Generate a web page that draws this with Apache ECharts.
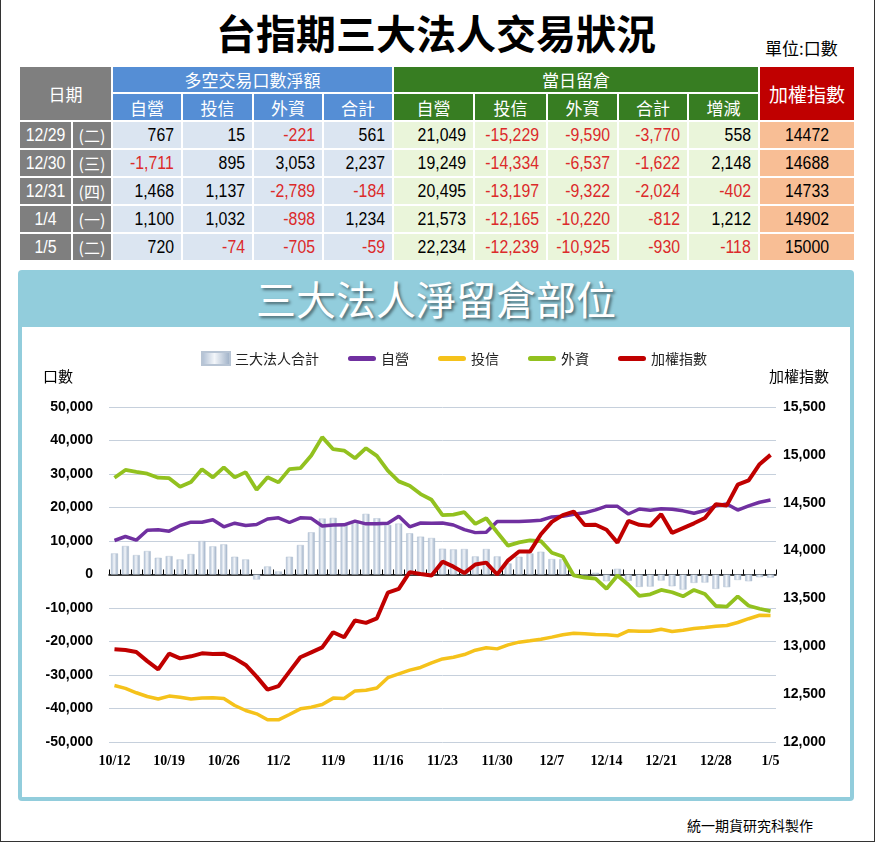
<!DOCTYPE html>
<html>
<head>
<meta charset="utf-8">
<script src="https://cdn.jsdelivr.net/npm/echarts@6/dist/echarts.min.js"></script>
<style>
  html, body { margin: 0; padding: 0; background: #fff; }
  #page { position: relative; width: 873px; height: 841px; border-left: 1px solid #333; border-right: 1px solid #333; border-bottom: 1px solid #333; background: #fff; overflow: hidden; font-family: "Noto Sans CJK TC", "Noto Sans", sans-serif; }
  #title { position: absolute; left: 0; top: 6px; width: 870px; text-align: center; font-size: 40px; font-weight: 700; line-height: 52px; color: #000; }
  #unit { position: absolute; left: 764px; top: 36px; font-size: 17px; line-height: 24px; color: #000; }
  #tbl { position: absolute; left: 17px; top: 65px; width: 836px; border-collapse: collapse; table-layout: fixed; }
  #tbl td { border: 2px solid #fff; padding: 0; height: 24px; overflow: hidden; white-space: nowrap; }
  #tbl td.h { color: #fff; text-align: center; font-size: 17px; }
  #tbl td.num { text-align: right; padding-right: 7px; font-family: "Liberation Sans", sans-serif; font-size: 18px; color: #000; }
  #tbl td.neg { color: #dc2a2a; }
  #tbl td.dt { background: #7f7f7f; color: #fff; text-align: center; font-family: "Liberation Sans", sans-serif; font-size: 18px; }
  #tbl td.wk { background: #7f7f7f; color: #fff; text-align: center; font-size: 16px; }
  #tbl td.idx { background: #f8be95; text-align: center; font-family: "Liberation Sans", sans-serif; font-size: 18px; color: #000; }
  .nar { display: inline-block; transform: scaleX(0.88); transform-origin: right center; }
  .narc { display: inline-block; transform: scaleX(0.88); transform-origin: center center; }
  .gray { background: #7f7f7f; }
  .blue { background: #558ed5; }
  .green { background: #377d22; }
  .red { background: #c00000; }
  .lb { background: #dbe5f1; }
  .lg { background: #eaf5da; }
  #panel { position: absolute; left: 17px; top: 270px; width: 836px; height: 531px; background: #92cddc; border-radius: 4px; }
  #ptitle { position: absolute; left: 0; top: 0; width: 836px; height: 57px; text-align: center; font-size: 40px; line-height: 57px; color: #fff; font-weight: 400; text-shadow: 2px 2px 3px rgba(0,0,0,0.5); }
  #inner { position: absolute; left: 4px; top: 57px; width: 828px; height: 470px; background: #fff; }
  #chart { position: absolute; left: 0; top: 0; width: 828px; height: 470px; }
  #footer { position: absolute; left: 686px; top: 814px; font-size: 14px; line-height: 22px; color: #000; }
</style>
</head>
<body>
<div id="page">
  <div id="title">台指期三大法人交易狀況</div>
  <div id="unit">單位:口數</div>
  <table id="tbl">
    <colgroup>
      <col style="width:53px"><col style="width:40px">
      <col style="width:70px"><col style="width:71px"><col style="width:70px"><col style="width:70px">
      <col style="width:81px"><col style="width:73px"><col style="width:71px"><col style="width:70px"><col style="width:71px">
      <col style="width:96px">
    </colgroup>
    <tbody id="tbody"></tbody>
  </table>
  <div id="panel">
    <div id="ptitle">三大法人淨留倉部位</div>
    <div id="inner"><div id="chart"></div></div>
  </div>
  <div id="footer">統一期貨研究科製作</div>
</div>
<script>
// ---------- table data ----------
const tblDates = ['12/29', '12/30', '12/31', '1/4', '1/5'];
const tblWeek = ['(二)', '(三)', '(四)', '(一)', '(二)'];
const netProp = [767, -1711, 1468, 1100, 720];
const netTrust = [15, 895, 1137, 1032, -74];
const netForeign = [-221, 3053, -2789, -898, -705];
const netTotal = [561, 2237, -184, 1234, -59];
const oiProp = [21049, 19249, 20495, 21573, 22234];
const oiTrust = [-15229, -14334, -13197, -12165, -12239];
const oiForeign = [-9590, -6537, -9322, -10220, -10925];
const oiTotal = [-3770, -1622, -2024, -812, -930];
const oiChange = [558, 2148, -402, 1212, -118];
const tblIndex = [14472, 14688, 14733, 14902, 15000];

// ---------- chart data ----------
const dates = ['10/12','10/13','10/14','10/15','10/16','10/19','10/20','10/21','10/22','10/23',
  '10/26','10/27','10/28','10/29','10/30','11/2','11/3','11/4','11/5','11/6',
  '11/9','11/10','11/11','11/12','11/13','11/16','11/17','11/18','11/19','11/20',
  '11/23','11/24','11/25','11/26','11/27','11/30','12/1','12/2','12/3','12/4',
  '12/7','12/8','12/9','12/10','12/11','12/14','12/15','12/16','12/17','12/18',
  '12/21','12/22','12/23','12/24','12/25','12/28','12/29','12/30','12/31','1/4','1/5'];
const totalNet = [6300,8500,5800,7000,5000,5500,4500,6100,10000,8400,
  9000,5300,4500,-1500,2400,900,5300,8800,12600,16700,
  16900,14800,15700,18100,16800,14800,15200,12300,11300,10900,
  7700,7500,7600,5400,7600,5400,3300,5300,6300,6800,
  4600,4600,200,-100,500,-2000,1700,-1900,-3700,-3600,
  -1800,-3500,-4500,-2500,-2400,-4300,-3770,-1622,-2024,-812,-930];
const propOI = [10150,11340,10250,13230,13330,12940,14630,15620,15620,16320,
  14230,15320,14630,14930,16570,16920,15520,16920,16770,14480,
  14780,14830,15920,15120,15120,15320,17400,14230,15370,15320,
  15400,14780,13380,12500,12600,15800,15850,15800,16000,16200,
  17200,17400,18000,18400,19300,20400,20350,18050,19550,19200,
  19600,19500,19000,18300,19100,20500,21049,19249,20495,21573,22234];
const trustOI = [-33130,-34000,-35300,-36420,-37150,-36300,-36620,-37150,-36850,-36820,
  -37000,-39100,-40600,-41590,-43380,-43380,-41790,-40100,-39600,-38800,
  -36900,-37000,-34750,-34550,-33900,-30800,-29650,-28550,-27750,-26400,
  -25200,-24700,-23900,-22600,-21890,-22200,-21000,-20200,-19800,-19300,
  -18700,-18010,-17510,-17710,-17910,-18010,-18310,-16820,-16920,-16920,
  -16350,-17000,-16650,-16100,-15800,-15420,-15229,-14334,-13197,-12165,-12239];
const foreignOI = [28900,31200,30600,30100,28900,28750,26200,27600,31400,29000,
  32000,29000,30550,25300,29000,27500,31450,31740,35520,41000,
  37400,37000,34700,37700,35400,31000,27800,26500,24000,22300,
  17700,17900,18600,15100,16800,12600,8600,9600,10150,9950,
  6500,5370,-300,-900,-1200,-4250,-300,-3050,-6400,-5900,
  -4600,-5300,-6500,-4600,-5800,-9400,-9590,-6537,-9322,-10220,-10925];
const taiex = [12970,12961,12940,12845,12759,12923,12874,12895,12926,12920,
  12923,12874,12805,12683,12547,12584,12735,12885,12937,12989,
  13147,13094,13270,13245,13292,13560,13600,13775,13755,13740,
  13884,13832,13765,13855,13874,13750,13898,13990,13989,14170,
  14300,14370,14407,14267,14270,14218,14083,14311,14269,14258,
  14380,14185,14235,14285,14340,14483,14472,14688,14733,14902,15000];
const seriesNames = ['三大法人合計', '自營', '投信', '外資', '加權指數'];
const leftTicks = { min: -50000, max: 50000, step: 10000 };
const rightTicks = { min: 12000, max: 15500, step: 500 };

// ---------- build table ----------
function fmt(v) { return v.toLocaleString('en-US'); }
const tb = document.getElementById('tbody');
let html = '';
html += '<tr style="height:27px"><td class="h gray" colspan="2" rowspan="2" style="font-size:17px">日期</td>' +
  '<td class="h blue" colspan="4">多空交易口數淨額</td>' +
  '<td class="h green" colspan="5">當日留倉</td>' +
  '<td class="h red" rowspan="2" style="font-size:19px">加權指數</td></tr>';
html += '<tr style="height:28px">' +
  ['自營','投信','外資','合計'].map(t => '<td class="h blue">' + t + '</td>').join('') +
  ['自營','投信','外資','合計','增減'].map(t => '<td class="h green">' + t + '</td>').join('') + '</tr>';
for (let i = 0; i < tblDates.length; i++) {
  const blueVals = [netProp[i], netTrust[i], netForeign[i], netTotal[i]];
  const greenVals = [oiProp[i], oiTrust[i], oiForeign[i], oiTotal[i], oiChange[i]];
  html += '<tr style="height:28px"><td class="dt"><span class="narc">' + tblDates[i] + '</span></td><td class="wk">' + tblWeek[i] + '</td>' +
    blueVals.map(v => '<td class="num lb' + (v < 0 ? ' neg' : '') + '"><span class="nar">' + fmt(v) + '</span></td>').join('') +
    greenVals.map(v => '<td class="num lg' + (v < 0 ? ' neg' : '') + '"><span class="nar">' + fmt(v) + '</span></td>').join('') +
    '<td class="idx"><span class="narc">' + tblIndex[i] + '</span></td></tr>';
}
tb.innerHTML = html;

// ---------- chart ----------
const chart = echarts.init(document.getElementById('chart'), null, { renderer: 'canvas' });
const numFmt = v => Number(v).toLocaleString('en-US');
const lineIcon = 'path://M2.5,0 L25.5,0 A2.5,2.5 0 0 1 25.5,5 L2.5,5 A2.5,2.5 0 0 1 2.5,0 Z';
const lineCommon = { type: 'line', symbol: 'none', showSymbol: false, smooth: false, z: 3 };
const option = {
  animation: false,
  backgroundColor: '#fff',
  textStyle: { fontFamily: 'Noto Sans CJK TC' },
  grid: { left: 87, right: 74, top: 80, bottom: 55, containLabel: false },
  legend: {
    left: 174, top: 19, itemWidth: 28, itemHeight: 13, itemGap: 29,
    textStyle: { fontSize: 14, color: '#222', fontFamily: 'Noto Sans CJK TC' },
    data: [
      { name: seriesNames[0], icon: 'rect' },
      { name: seriesNames[1], icon: lineIcon },
      { name: seriesNames[2], icon: lineIcon },
      { name: seriesNames[3], icon: lineIcon },
      { name: seriesNames[4], icon: lineIcon }
    ]
  },
  graphic: [
    { type: 'text', left: 21, top: 42, style: { text: '口數', fontSize: 15, fill: '#000', fontFamily: 'Noto Sans CJK TC' } },
    { type: 'text', left: 747, top: 42, style: { text: '加權指數', fontSize: 15, fill: '#000', fontFamily: 'Noto Sans CJK TC' } }
  ],
  xAxis: [
    {
      type: 'category', data: dates, boundaryGap: true,
      axisLine: { onZero: true, onZeroAxisIndex: 0, lineStyle: { color: '#000', width: 1.5 } },
      axisTick: { show: true, inside: true, length: 5, interval: 0, lineStyle: { color: '#000', width: 1 } },
      axisLabel: { show: false }, splitLine: { show: false }
    },
    {
      type: 'category', data: dates, boundaryGap: true, position: 'bottom',
      axisLine: { show: false, onZero: false }, axisTick: { show: false },
      axisLabel: { interval: 4, margin: 12, fontFamily: 'Liberation Serif', fontWeight: 'bold', fontSize: 14, color: '#000' },
      splitLine: { show: false }
    }
  ],
  yAxis: [
    {
      type: 'value', min: leftTicks.min, max: leftTicks.max, interval: leftTicks.step,
      axisLine: { show: false }, axisTick: { show: false },
      splitLine: { show: true, lineStyle: { color: '#c6d0dc', width: 1 } },
      axisLabel: { formatter: numFmt, margin: 16, fontFamily: 'Liberation Sans', fontWeight: 'bold', fontSize: 14, color: '#000' }
    },
    {
      type: 'value', min: rightTicks.min, max: rightTicks.max, interval: rightTicks.step, position: 'right',
      axisLine: { show: false }, axisTick: { show: false }, splitLine: { show: false },
      axisLabel: { formatter: numFmt, margin: 7, fontFamily: 'Liberation Sans', fontWeight: 'bold', fontSize: 14, color: '#000' }
    }
  ],
  series: [
    {
      name: seriesNames[0], type: 'bar', data: totalNet, xAxisIndex: 0, yAxisIndex: 0, barWidth: 7, z: 2,
      itemStyle: {
        color: new echarts.graphic.LinearGradient(0, 0, 1, 0, [
          { offset: 0, color: '#a9bad0' }, { offset: 0.45, color: '#f3f6fa' }, { offset: 1, color: '#98abc3' }
        ]),
        borderColor: '#b7c4d4', borderWidth: 0.5
      }
    },
    Object.assign({ name: seriesNames[1], data: propOI, yAxisIndex: 0, itemStyle: { color: '#7030a0' }, lineStyle: { color: '#7030a0', width: 3.5 } }, lineCommon),
    Object.assign({ name: seriesNames[2], data: trustOI, yAxisIndex: 0, itemStyle: { color: '#f5c21b' }, lineStyle: { color: '#f5c21b', width: 3.5 } }, lineCommon),
    Object.assign({ name: seriesNames[3], data: foreignOI, yAxisIndex: 0, itemStyle: { color: '#92c11f' }, lineStyle: { color: '#92c11f', width: 3.8 } }, lineCommon),
    Object.assign({ name: seriesNames[4], data: taiex, yAxisIndex: 1, itemStyle: { color: '#c00000' }, lineStyle: { color: '#c00000', width: 4 } }, lineCommon)
  ]
};
chart.setOption(option);
</script>
</body>
</html>
